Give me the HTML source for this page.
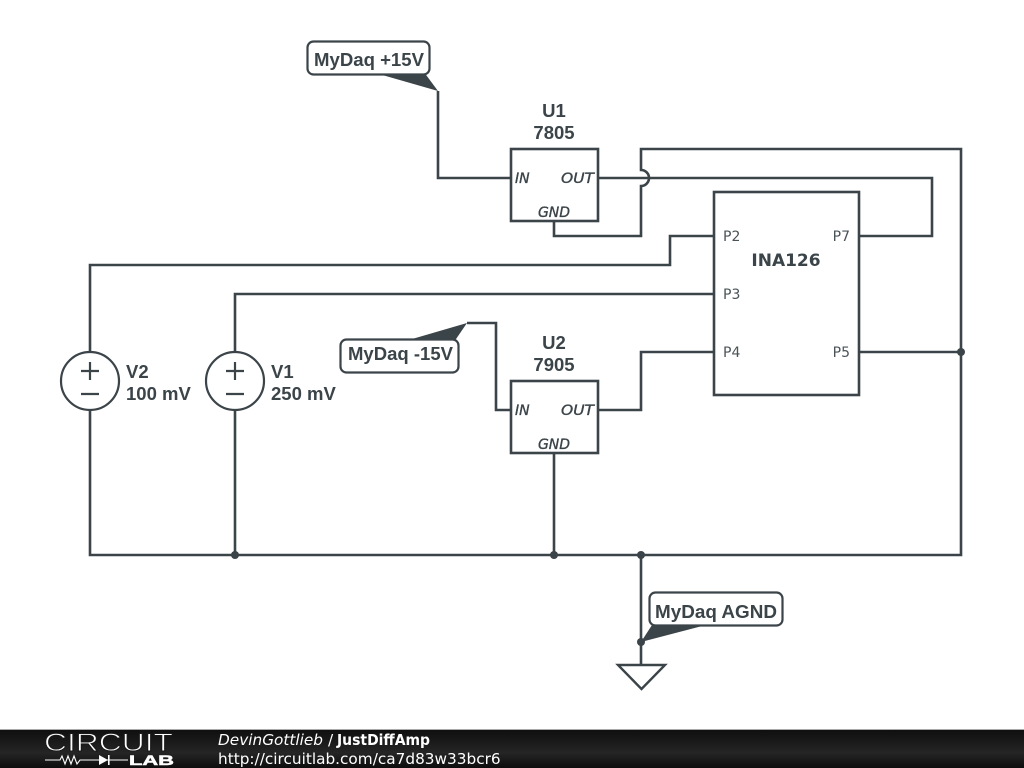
<!DOCTYPE html>
<html>
<head>
<meta charset="utf-8">
<style>
html,body{margin:0;padding:0;background:#fff;width:1024px;height:768px;overflow:hidden}
svg{display:block}
.w{fill:none;stroke:#3b4449;stroke-width:2.6;stroke-linejoin:miter}
.t{font-family:"Liberation Sans",sans-serif;font-weight:bold;font-size:18.5px;fill:#3b4449}
.p{font-family:"DejaVu Sans",sans-serif;font-size:14px;fill:#4a5358}
.i{font-family:"DejaVu Sans",sans-serif;font-style:italic;font-size:14px;fill:#3b4449;stroke:#3b4449;stroke-width:0.35}
.f{font-family:"DejaVu Sans",sans-serif;font-size:15.3px;fill:#fff}
</style>
</head>
<body>
<svg width="1024" height="768" viewBox="0 0 1024 768" xmlns="http://www.w3.org/2000/svg">
<defs>
<linearGradient id="g" x1="0" y1="0" x2="0" y2="1">
<stop offset="0" stop-color="#0f0f0f"/>
<stop offset="0.6" stop-color="#252525"/>
<stop offset="1" stop-color="#0d0d0d"/>
</linearGradient>
</defs>
<rect width="1024" height="768" fill="#fff"/>

<!-- wires -->
<path class="w" d="M438 91V178H511"/>
<path class="w" d="M598 178H932V236H859"/>
<path class="w" d="M554 221V236H641V186A8 8 0 0 0 641 170V149H961V555H90V410"/>
<path class="w" d="M714 236H670V265H90V352"/>
<path class="w" d="M714 294H235V352"/>
<path class="w" d="M714 352H641V410H598"/>
<path class="w" d="M859 352H961"/>
<path class="w" d="M235 410V555"/>
<path class="w" d="M554 453V555"/>
<path class="w" d="M511 410H496V323H467"/>
<path class="w" d="M641 555V665"/>

<!-- junctions -->
<g fill="#3b4449">
<circle cx="961" cy="352" r="4"/>
<circle cx="235" cy="555" r="4"/>
<circle cx="554" cy="555" r="4"/>
<circle cx="641" cy="555" r="4"/>
<circle cx="641" cy="642" r="4"/>
</g>

<!-- regulators -->
<rect class="w" x="511" y="149" width="87" height="72" style="fill:#fff"/>
<rect class="w" x="511" y="381" width="87" height="72" style="fill:#fff"/>
<text class="t" x="554" y="117" text-anchor="middle">U1</text>
<text class="t" x="554" y="139" text-anchor="middle">7805</text>
<text class="t" x="554" y="349" text-anchor="middle">U2</text>
<text class="t" x="554" y="371" text-anchor="middle">7905</text>
<text class="i" x="515" y="183">IN</text>
<text class="i" x="561" y="183" textLength="33" lengthAdjust="spacingAndGlyphs">OUT</text>
<text class="i" x="554" y="217" text-anchor="middle">GND</text>
<text class="i" x="515" y="415">IN</text>
<text class="i" x="561" y="415" textLength="33" lengthAdjust="spacingAndGlyphs">OUT</text>
<text class="i" x="554" y="449" text-anchor="middle">GND</text>

<!-- INA126 -->
<rect class="w" x="714" y="192" width="145" height="203" style="fill:#fff"/>
<text x="786" y="266" text-anchor="middle" style="font-family:'DejaVu Sans',sans-serif;font-weight:bold;font-size:17px;fill:#3b4449">INA126</text>
<text class="p" x="723" y="241">P2</text>
<text class="p" x="723" y="299">P3</text>
<text class="p" x="723" y="357">P4</text>
<text class="p" x="850" y="241" text-anchor="end">P7</text>
<text class="p" x="850" y="357" text-anchor="end">P5</text>

<!-- sources -->
<g fill="#fff" stroke="#3b4449" stroke-width="2.2">
<circle cx="90" cy="381" r="29"/>
<circle cx="235" cy="381" r="29"/>
<path d="M81 371H99M90 362V380M81 394H99" fill="none"/>
<path d="M226 371H244M235 362V380M226 394H244" fill="none"/>
</g>
<text class="t" x="126" y="378">V2</text>
<text class="t" x="126" y="400">100 mV</text>
<text class="t" x="271" y="378">V1</text>
<text class="t" x="271" y="400">250 mV</text>

<!-- net labels -->
<rect x="307.5" y="41.5" width="122" height="33" rx="6" fill="#fff" stroke="#3b4449" stroke-width="2.2"/>
<polygon points="377,73.5 425,73.5 438,91" fill="#3b4449"/>
<text class="t" x="314" y="66" textLength="110" lengthAdjust="spacingAndGlyphs">MyDaq +15V</text>

<rect x="340.5" y="339.5" width="118" height="33" rx="6" fill="#fff" stroke="#3b4449" stroke-width="2.2"/>
<polygon points="407,340.5 467,323 455,340.5" fill="#3b4449"/>
<text class="t" x="348" y="360" textLength="105" lengthAdjust="spacingAndGlyphs">MyDaq -15V</text>

<rect x="649.5" y="592.5" width="133" height="33" rx="6" fill="#fff" stroke="#3b4449" stroke-width="2.2"/>
<polygon points="652,625 706,625 641,642" fill="#3b4449"/>
<text class="t" x="655" y="618" textLength="122" lengthAdjust="spacingAndGlyphs">MyDaq AGND</text>

<!-- ground -->
<polygon points="618,665 665,665 641.5,689" fill="#fff" stroke="#3b4449" stroke-width="2.4"/>

<!-- footer -->
<rect x="0" y="729" width="1024" height="1" fill="#aaa"/>
<rect x="0" y="730" width="1024" height="38" fill="url(#g)"/>
<text x="44" y="751" textLength="129" lengthAdjust="spacingAndGlyphs" style="font-family:'Liberation Sans',sans-serif;font-size:25px;fill:#fff;stroke:#1a1a1a;stroke-width:0.9">CIRCUIT</text>
<path d="M45 760H60L62 756L65 764L68 756L71 764L74 756L77 764L80 760H128" fill="none" stroke="#fff" stroke-width="1.1"/>
<polygon points="99,755 99,765 108,760" fill="#fff"/>
<rect x="108" y="755" width="1.6" height="10" fill="#fff"/>
<text x="129" y="765" textLength="45" lengthAdjust="spacingAndGlyphs" style="font-family:'Liberation Sans',sans-serif;font-weight:bold;font-size:14px;fill:#fff;stroke:#fff;stroke-width:0.5">LAB</text>
<text class="f" x="218" y="745" font-style="italic">DevinGottlieb</text>
<text class="f" x="328" y="745">/</text>
<text class="f" x="337" y="745" font-weight="bold" textLength="93" lengthAdjust="spacingAndGlyphs">JustDiffAmp</text>
<text class="f" x="218" y="764">http://circuitlab.com/ca7d83w33bcr6</text>
</svg>
</body>
</html>
